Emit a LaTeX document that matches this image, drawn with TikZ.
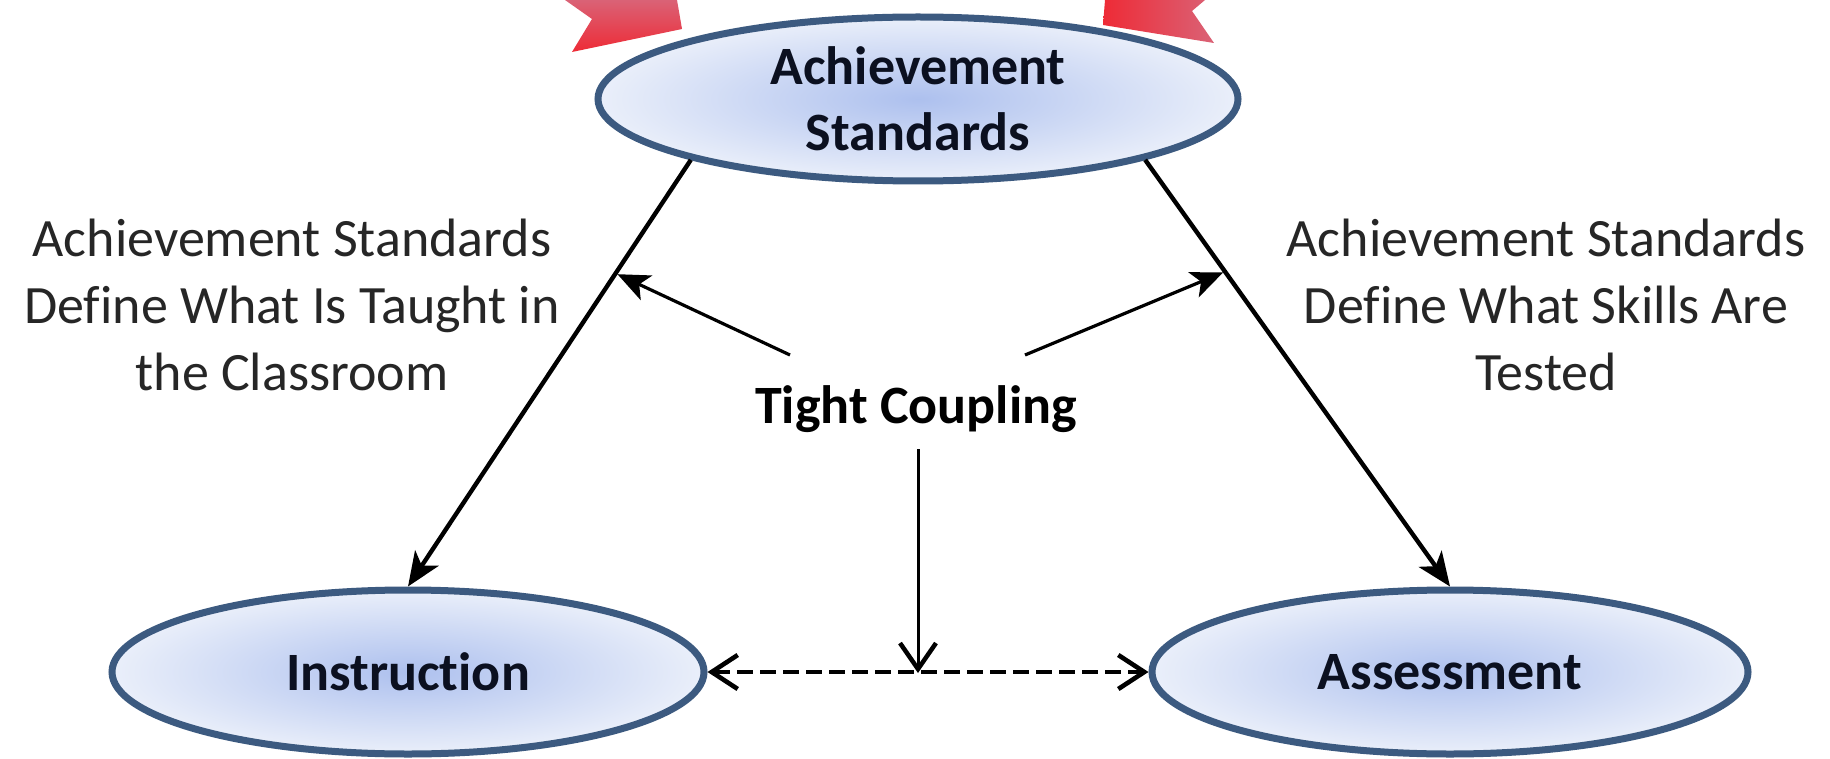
\documentclass[tikz,border=0pt]{standalone}
\usepackage{fontspec}
\setmainfont{Carlito}[Ligatures=NoCommon]
\usetikzlibrary{shapes.geometric,arrows.meta,calc}
\definecolor{ellborder}{HTML}{3C5A80}
\definecolor{ellin}{HTML}{ADC0EE}
\definecolor{ellout}{HTML}{EAEFFA}
\definecolor{txtdark}{HTML}{0B1020}
\definecolor{redA}{HTML}{EE2B36}
\definecolor{redB}{HTML}{DA6276}
\begin{document}
\begin{tikzpicture}[x=1pt,y=-1pt,
  oval/.style={ellipse, draw=ellborder, line width=7pt, inner color=ellin,
    outer color=ellout, inner sep=0pt, minimum height=164pt, align=center,
    font=\fontsize{54}{66}\selectfont\bfseries, text=txtdark},
  note/.style={align=center, font=\fontsize{54}{67}\selectfont, text=black!85},
  mainarrow/.style={-{Stealth[length=34pt,width=28pt,inset=9pt]}, line width=4.4pt},
  pointer/.style={-{Stealth[length=32pt,width=27pt,inset=8pt]}, line width=3.2pt},
  droparrow/.style={-{Straight Barb[length=26pt,width=36pt,line width=4.5pt]}, line width=3pt},
  linkarrow/.style={{Straight Barb[length=26pt,width=34pt]}-{Straight Barb[length=26pt,width=34pt]},
    line width=4.6pt, dash pattern=on 16pt off 7pt}
]
% page and background
\fill[white] (0,0) rectangle (1830,759);
\useasboundingbox (0,0) rectangle (1830,759);

% red ribbon ends at the top edge
\shade[top color=redB, bottom color=redA] (565,0) -- (592,19) -- (572,52) -- (682,29) -- (677,0) -- cycle;
\shade[left color=redA, right color=redB] (1105,0) -- (1103,25) -- (1214,43) -- (1192,11) -- (1205,0) -- cycle;

% the three ovals
\node[oval, minimum width=640pt] (std) at (918,99) {Achievement\\Standards};
\node[oval, minimum width=592pt] (ins) at (408,672) {Instruction};
\node[oval, minimum width=596pt] (ass) at (1450,672) {Assessment};

% side notes and centre label
\node[note] (tl) at (292,305) {Achievement Standards\\Define What Is Taught in\\the Classroom};
\node[note] (tr) at (1546,305) {Achievement Standards\\Define What Skills Are\\Tested};
\node[font=\fontsize{54}{66}\selectfont\bfseries, text=black] (tc) at (916,409) {Tight Coupling};

% standards drive instruction and assessment
\draw[mainarrow] (std.195) -- (ins.north);
\draw[mainarrow] (std.-15) -- (ass.north);

% pointers from the centre label
\coordinate (tcl) at (790,355);
\coordinate (tcr) at (1025,355);
\coordinate (tcd) at (918,449);
\coordinate (pl) at ($(std.195)!0.266!(ins.north)$);
\coordinate (pr) at ($(std.-15)!0.262!(ass.north)$);
\coordinate (mid) at (918,673);
\draw[pointer, shorten >=2pt] (tcl) -- (pl);
\draw[pointer, shorten >=2pt] (tcr) -- (pr);

% instruction <-> assessment
\draw[linkarrow] (ins.east) -- (ass.west);
\draw[droparrow] (tcd) -- (mid);
\end{tikzpicture}
\end{document}
